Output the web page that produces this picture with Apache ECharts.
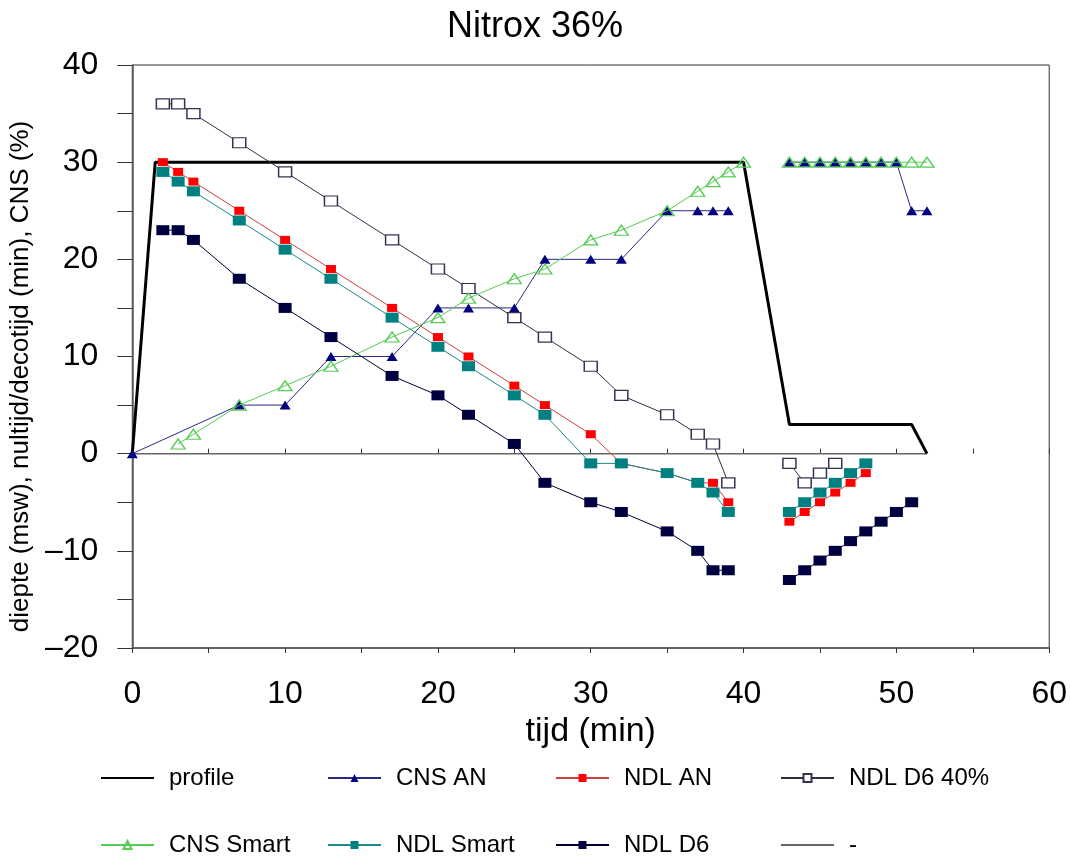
<!DOCTYPE html>
<html><head><meta charset="utf-8">
<script src="https://cdn.jsdelivr.net/npm/echarts@6/dist/echarts.min.js"></script>
<style>html,body{margin:0;padding:0;background:#fff}#c{width:1070px;height:857px}</style>
</head><body><div id="c"></div><script>
// ---- data ----
const profileX = [0, 1.5, 40, 43, 51, 52];
const profileY = [0, 30, 30, 3, 3, 0];
const cnsAnX = [0, 7, 10, 13, 17, 20, 22, 25, 27, 30, 32, 35, 37, 38, 39, 41, 43, 44, 45, 46, 47, 48, 49, 50, 51, 52];
const cnsAnY = [0, 5, 5, 10, 10, 15, 15, 15, 20, 20, 20, 25, 25, 25, 25, null, 30, 30, 30, 30, 30, 30, 30, 30, 25, 25];
const ndlAnX = [2, 3, 4, 7, 10, 13, 17, 20, 22, 25, 27, 30, 32, 35, 37, 38, 39, 41, 43, 44, 45, 46, 47, 48];
const ndlAnY = [30, 29, 28, 25, 22, 19, 15, 12, 10, 7, 5, 2, -1, -2, -3, -3, -5, null, -7, -6, -5, -4, -3, -2];
const ndlD640X = [2, 3, 4, 7, 10, 13, 17, 20, 22, 25, 27, 30, 32, 35, 37, 38, 39, 41, 43, 44, 45, 46];
const ndlD640Y = [36, 36, 35, 32, 29, 26, 22, 19, 17, 14, 12, 9, 6, 4, 2, 1, -3, null, -1, -3, -2, -1];
const cnsSmartX = [3, 4, 7, 10, 13, 17, 20, 22, 25, 27, 30, 32, 35, 37, 38, 39, 40, 41, 43, 44, 45, 46, 47, 48, 49, 50, 51, 52];
const cnsSmartY = [1, 2, 5, 7, 9, 12, 14, 16, 18, 19, 22, 23, 25, 27, 28, 29, 30, null, 30, 30, 30, 30, 30, 30, 30, 30, 30, 30];
const ndlSmartX = [2, 3, 4, 7, 10, 13, 17, 20, 22, 25, 27, 30, 32, 35, 37, 38, 39, 41, 43, 44, 45, 46, 47, 48];
const ndlSmartY = [29, 28, 27, 24, 21, 18, 14, 11, 9, 6, 4, -1, -1, -2, -3, -4, -6, null, -6, -5, -4, -3, -2, -1];
const ndlD6X = [2, 3, 4, 7, 10, 13, 17, 20, 22, 25, 27, 30, 32, 35, 37, 38, 39, 41, 43, 44, 45, 46, 47, 48, 49, 50, 51];
const ndlD6Y = [23, 23, 22, 18, 15, 12, 8, 6, 4, 1, -3, -5, -6, -8, -10, -12, -12, null, -13, -12, -11, -10, -9, -8, -7, -6, -5];
const dashX = [0, 52];
const dashY = [0, 0];
const seriesNames = ['profile', 'CNS AN', 'NDL AN', 'NDL D6 40%', 'CNS Smart', 'NDL Smart', 'NDL D6', '-'];
const titleText = 'Nitrox 36%';
const xName = 'tijd (min)';
const yName = 'diepte (msw), nultijd/decotijd (min), CNS (%)';

function pairs(xs, ys) { return xs.map((x, i) => [x, ys[i] === null ? '-' : ys[i]]); }

const chart = echarts.init(document.getElementById('c'), null, {renderer: 'canvas'});
const FONT = 'Arial, "Liberation Sans", sans-serif';

const legendPos = [
  [100, 764], [327, 764], [555, 764], [780, 764],
  [100, 831], [327, 831], [555, 831], [780, 831]
];
const noSymbolLegend = {'profile': true, '-': true};

const option = {
  backgroundColor: '#fff',
  animation: false,
  title: {
    text: titleText, left: 'center', top: 4,
    textStyle: {fontFamily: FONT, fontSize: 36, fontWeight: 'normal', color: '#000'}
  },
  legend: seriesNames.map((n, i) => {
    const l = {
      data: [n], left: legendPos[i][0], top: legendPos[i][1], padding: 0,
      itemWidth: 53, itemHeight: 10,
      textStyle: {fontFamily: FONT, fontSize: 24, color: '#000', lineHeight: 28, padding: [0, 0, 0, 10]}
    };
    if (noSymbolLegend[n]) l.itemStyle = {opacity: 0};
    return l;
  }),
  grid: {left: 128, right: 17, top: 65, bottom: 209, show: true, borderColor: '#333', borderWidth: 1, backgroundColor: 'transparent'},
  xAxis: [{
    type: 'value', min: 0, max: 60, interval: 10,
    name: xName, nameLocation: 'middle', nameGap: 53,
    nameTextStyle: {fontFamily: FONT, fontSize: 34, color: '#000'},
    axisLine: {show: true, onZero: false, lineStyle: {color: '#555', width: 1.5}},
    axisTick: {show: true, length: 5, lineStyle: {color: '#333'}},
    minorTick: {show: true, splitNumber: 2, length: 5, lineStyle: {color: '#333'}},
    axisLabel: {fontFamily: FONT, fontSize: 32, color: '#000', margin: 30},
    splitLine: {show: false}
  }, {
    type: 'value', min: 0, max: 60, interval: 10, position: 'bottom',
    axisLine: {show: false}, axisLabel: {show: false}, splitLine: {show: false},
    axisTick: {show: true, inside: true, length: 5, lineStyle: {color: '#333'}},
    minorTick: {show: true, splitNumber: 2, length: 5, lineStyle: {color: '#333'}}
  }],
  yAxis: {
    type: 'value', min: -20, max: 40, interval: 10,
    name: yName, nameLocation: 'middle', nameGap: 98,
    nameTextStyle: {fontFamily: FONT, fontSize: 26, color: '#000', padding: [0, 40, 0, 0]},
    axisLine: {show: true, onZero: false, lineStyle: {color: '#555', width: 1.5}},
    axisTick: {show: true, length: 15, lineStyle: {color: '#333'}},
    minorTick: {show: true, splitNumber: 2, length: 15, lineStyle: {color: '#333'}},
    axisLabel: {fontFamily: FONT, fontSize: 32, color: '#000', margin: 34,
      formatter: v => String(v).replace('-', '\u2013')},
    splitLine: {show: false}
  },
  series: [
    {name: 'profile', type: 'line', data: pairs(profileX, profileY), symbol: 'none',
     lineStyle: {color: '#000', width: 3}, itemStyle: {color: '#000'}, z: 2},
    {name: 'CNS AN', type: 'line', data: pairs(cnsAnX, cnsAnY), symbol: 'triangle', symbolSize: [11, 9],
     lineStyle: {color: '#2a2a80', width: 1}, itemStyle: {color: '#000080'}, z: 3},
    {name: 'NDL AN', type: 'line', data: pairs(ndlAnX, ndlAnY), symbol: 'rect', symbolSize: [10, 8],
     lineStyle: {color: '#d04040', width: 1}, itemStyle: {color: '#ff0000'}, z: 3},
    {name: 'NDL D6 40%', type: 'line', data: pairs(ndlD640X, ndlD640Y), symbol: 'rect', symbolSize: [13, 10],
     lineStyle: {color: '#2e2e45', width: 1}, itemStyle: {color: '#fff', borderColor: '#333350', borderWidth: 1.3}, z: 3},
    {name: 'CNS Smart', type: 'line', data: pairs(cnsSmartX, cnsSmartY), symbol: 'triangle', symbolSize: [14, 10],
     lineStyle: {color: '#55cc55', width: 1}, itemStyle: {color: 'rgba(255,255,255,0)', borderColor: '#55cc55', borderWidth: 1.3}, z: 4},
    {name: 'NDL Smart', type: 'line', data: pairs(ndlSmartX, ndlSmartY), symbol: 'rect', symbolSize: [13, 10],
     lineStyle: {color: '#1a8a8a', width: 1}, itemStyle: {color: '#008080'}, z: 4},
    {name: 'NDL D6', type: 'line', data: pairs(ndlD6X, ndlD6Y), symbol: 'rect', symbolSize: [13, 10],
     lineStyle: {color: '#000033', width: 1}, itemStyle: {color: '#000040'}, z: 4},
    {name: '-', type: 'line', data: pairs(dashX, dashY), symbol: 'none',
     lineStyle: {color: '#666', width: 1.5}, itemStyle: {color: '#666'}, z: 1}
  ]
};
chart.setOption(option);
</script></body></html>
